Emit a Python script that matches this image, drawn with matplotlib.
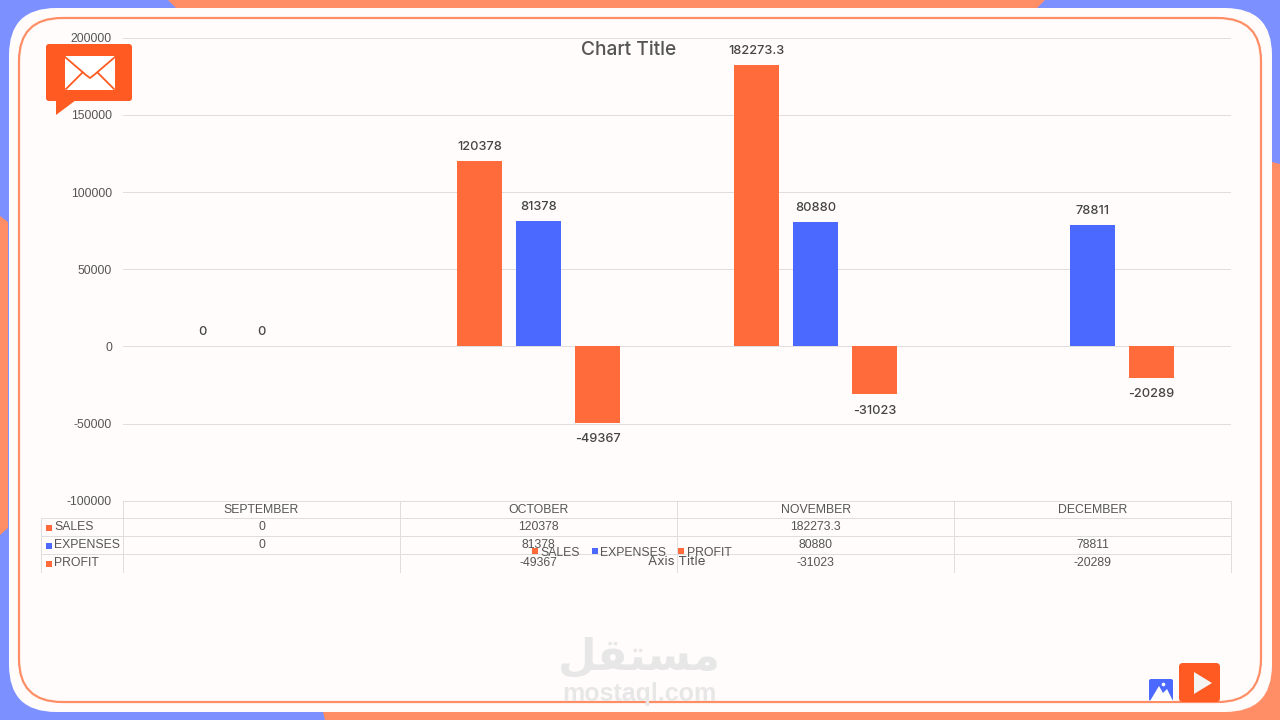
import numpy as np
import matplotlib
matplotlib.use("Agg")
import matplotlib.pyplot as plt
from matplotlib.lines import Line2D
from matplotlib.patches import FancyBboxPatch, Polygon, Rectangle
from matplotlib.transforms import blended_transform_factory

# Chart data
months = ["SEPTEMBER", "OCTOBER", "NOVEMBER", "DECEMBER"]
series_names = ["SALES", "EXPENSES", "PROFIT"]
sales = [0, 120378, 182273.3, np.nan]
expenses = [0, 81378, 80880, 78811]
profit = [np.nan, -49367, -31023, -20289]
y_ticks = [-100000, -50000, 0, 50000, 100000, 150000, 200000]

# Styling
BACK_BLUE = "#7C91FF"
BACK_ORANGE = "#FF8E66"
PANEL = "#FFFCFB"
BAR_ORANGE = "#FF6B3B"
BAR_BLUE = "#4B69FF"
ICON_ORANGE = "#FF5A21"
GRID = "#DEDEDE"
TEXT = "#555555"
WATERMARK = "#E7E7E7"
BODY_FONT = "Liberation Sans"
LABEL_FONT = "Inter"

W, H = 1280, 720
fig = plt.figure(figsize=(W / 100, H / 100), dpi=100, facecolor=BACK_BLUE)


def pixel_axes(z):
    """Full-figure axes addressed in pixels from the top-left corner."""
    a = fig.add_axes([0, 0, 1, 1], zorder=z)
    a.set_xlim(0, W)
    a.set_ylim(H, 0)
    a.axis("off")
    return a


# Slide frame behind the chart
back = pixel_axes(0)
for pts in (
    [(168, 0), (176, 8), (1037, 8), (1045, 0)],
    [(0, 216), (8, 222), (8, 528), (0, 535)],
    [(1272, 162), (1280, 164), (1280, 720), (1272, 720)],
    [(323, 712), (1280, 712), (1280, 720), (325, 720)],
):
    back.add_patch(Polygon(pts, closed=True, fc=BACK_ORANGE, ec="none"))
back.add_patch(Rectangle((1225, 670), 55, 50, fc=BACK_ORANGE, ec="none"))
back.add_patch(FancyBboxPatch((9, 8), 1263, 704,
                              boxstyle="round,pad=0,rounding_size=47",
                              fc=PANEL, ec="none"))
back.add_patch(FancyBboxPatch((19, 18), 1242, 684,
                              boxstyle="round,pad=0,rounding_size=43",
                              fc="none", ec=BACK_ORANGE, lw=1.6))

# Watermark: Arabic letters in presentation forms, laid out left to right
back.text(639.5, 657, "\ufede\ufed8\ufe98\ufeb4\ufee3", family="DejaVu Sans",
          weight="bold", fontsize=32, color=WATERMARK, ha="center", va="center")
back.text(639.5, 694, "mostaql.com", family="Liberation Sans", weight="bold",
          fontsize=18, color=WATERMARK, ha="center", va="center")

# Bar chart
L, R, T, B = 123, 1231, 37.8, 500.8
ax = fig.add_axes([L / W, 1 - B / H, (R - L) / W, (B - T) / H], zorder=1)
ax.patch.set_alpha(0)
x = np.arange(len(months))
bar_w = 0.166
step = 0.213
colors = [BAR_ORANGE, BAR_BLUE, BAR_ORANGE]
for i, (vals, col) in enumerate(zip([sales, expenses, profit], colors)):
    pos = x + (i - 1) * step
    ax.bar(pos, vals, width=bar_w, color=col, zorder=3)
    for px, v in zip(pos, vals):
        if np.isnan(v):
            continue
        off = -16.5 if v < 0 else 14
        ax.annotate(f"{v:g}" if v != 182273.3 else "182273.3", (px, v),
                    xytext=(0, off * 0.72), textcoords="offset points",
                    ha="center", va="center", fontsize=9.2, weight="medium",
                    family=LABEL_FONT, color="#444444", zorder=4)

ax.set_xlim(-0.5, 3.5)
ax.set_ylim(-100000, 200000)
ax.set_yticks(y_ticks)
ax.set_yticklabels([str(t) for t in y_ticks], family=BODY_FONT, fontsize=8.8,
                   color=TEXT)
ax.tick_params(axis="y", length=0, pad=8)
ax.set_xticks([])
ax.grid(axis="y", color=GRID, lw=0.72, zorder=0)
ax.set_axisbelow(True)
for s in ax.spines.values():
    s.set_visible(False)

# Foreground: data table, legend, titles and icons
front = pixel_axes(2)
col_x = blended_transform_factory(ax.transData, front.transData)
row_y = [501, 518, 536, 554, 572]
row_mid = [510, 527.5, 545.5, 563.5]
front.plot([L, R], [row_y[0]] * 2, color=GRID, lw=0.72)
for y in row_y[1:4]:
    front.plot([41, R], [y, y], color=GRID, lw=0.72)
for vx in (41, 123, 400, 677, 954, 1231):
    top = row_y[1] if vx == 41 else row_y[0]
    front.plot([vx, vx], [top, row_y[4]], color=GRID, lw=0.72)

for j, m in enumerate(months):
    front.text(j, row_mid[0], m, transform=col_x, ha="center", va="center",
               family=BODY_FONT, fontsize=8.8, color=TEXT)
for r, (vals, name, col) in enumerate(zip([sales, expenses, profit],
                                          series_names, colors)):
    y = row_mid[r + 1]
    front.plot([48.5], [y], marker="s", ms=4.4, color=col, ls="none", mew=0)
    front.text(54, y, name, ha="left", va="center", family=BODY_FONT,
               fontsize=8.8, color=TEXT)
    for j, v in enumerate(vals):
        if not np.isnan(v):
            front.text(j, y, f"{v:g}" if v != 182273.3 else "182273.3",
                       transform=col_x, ha="center", va="center",
                       family=BODY_FONT, fontsize=8.8, color=TEXT)

handles = [Line2D([], [], marker="s", ms=4.6, ls="none", color=c, mew=0)
           for c in colors]
leg = front.legend(handles, series_names, ncols=3, loc="center",
                   bbox_to_anchor=(631.5, 552.5), bbox_transform=front.transData,
                   frameon=False, handlelength=0.5, handletextpad=0.2,
                   columnspacing=0.98,
                   prop={"family": BODY_FONT, "size": 8.8}, labelcolor=TEXT,
                   borderpad=0, borderaxespad=0)

front.text(628.5, 50, "Chart Title", ha="center", va="center", family=LABEL_FONT,
           fontsize=13.8, weight="medium", color=TEXT)
front.text(677, 562, "Axis Title", ha="center", va="center", family=LABEL_FONT,
           fontsize=9.6, color=TEXT)

# Envelope speech-bubble icon
front.add_patch(FancyBboxPatch((46, 44), 86, 57,
                               boxstyle="round,pad=0,rounding_size=3",
                               fc=ICON_ORANGE, ec="none"))
front.add_patch(Polygon([(56, 100), (56, 115), (76, 100)], fc=ICON_ORANGE,
                        ec="none"))
front.add_patch(Rectangle((65, 56), 50, 33.5, fc="white", ec="none"))
front.plot([65, 86, 90, 94, 115], [57, 75, 78, 75, 57], color=ICON_ORANGE, lw=1.3)
front.plot([66, 82], [89, 73], color=ICON_ORANGE, lw=1.3)
front.plot([114, 98], [89, 73], color=ICON_ORANGE, lw=1.3)

# Picture and play icons in the lower corner
front.add_patch(FancyBboxPatch((1149, 679), 24, 22,
                               boxstyle="round,pad=0,rounding_size=2",
                               fc=BAR_BLUE, ec="none"))
front.add_patch(Polygon([(1150, 701), (1159, 686), (1163, 693), (1167, 689),
                         (1173, 701)], fc="white", ec="none"))
front.plot([1163], [684], marker="o", ms=2.6, color="white", mew=0)
front.add_patch(FancyBboxPatch((1179, 663), 41, 39,
                               boxstyle="round,pad=0,rounding_size=4",
                               fc=ICON_ORANGE, ec="none"))
front.add_patch(Polygon([(1194, 672), (1194, 694), (1212, 683)], fc="#F4F4F2",
                        ec="none"))

fig.savefig("out.png", dpi=100, facecolor=fig.get_facecolor())
